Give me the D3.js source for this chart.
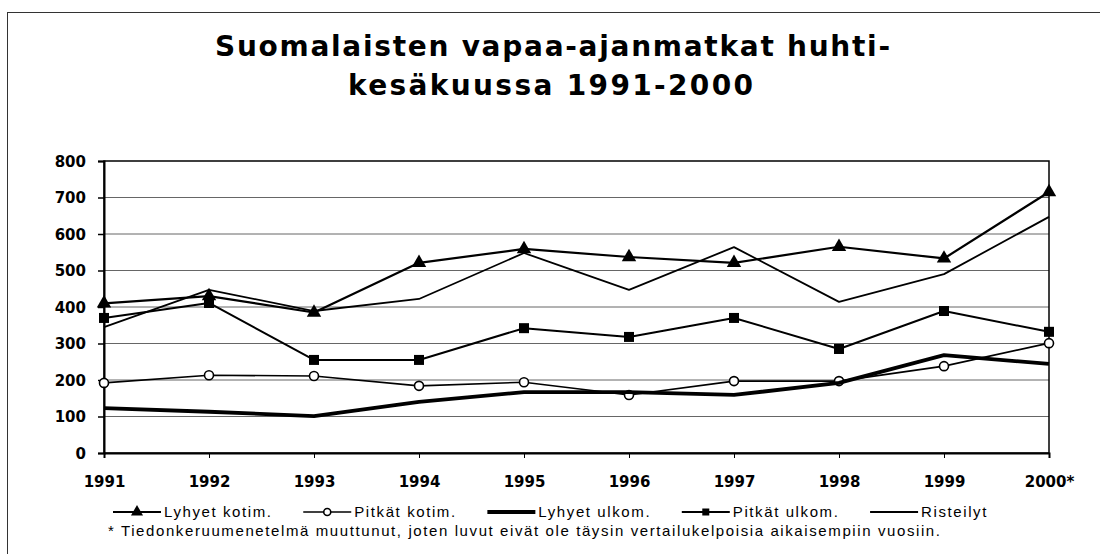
<!DOCTYPE html>
<html>
<head>
<meta charset="utf-8">
<script src="https://cdn.jsdelivr.net/npm/d3@7"></script>
<style>
  body { margin: 0; background: #fff; }
  text { font-family: "Liberation Sans", Arial, sans-serif; fill: #000; }
  .title { font-family: "DejaVu Sans", sans-serif; font-size: 28px; font-weight: bold; }
  .tick text { font-family: "DejaVu Sans", sans-serif; font-size: 15px; font-weight: bold; }
  .legend-label, .footnote { font-size: 15px; letter-spacing: 1.6px; }
</style>
</head>
<body>
<svg id="chart" width="1100" height="554"></svg>
<script>
const years = ["1991", "1992", "1993", "1994", "1995", "1996", "1997", "1998", "1999", "2000*"];
const lyhyetKotim = [410, 430, 385, 521, 559, 537, 521, 565, 533, 715];
const pitkatKotim = [192, 213, 211, 184, 194, 159, 197, 197, 238, 301];
const lyhyetUlkom = [123, 113, 101, 140, 167, 167, 159, 192, 268, 244];
const pitkatUlkom = [370, 411, 255, 255, 342, 318, 370, 285, 389, 332];
const risteilyt = [345, 447, 389, 422, 548, 447, 564, 414, 490, 647];
const yTicks = [0, 100, 200, 300, 400, 500, 600, 700, 800];

const series = [
  { name: "Lyhyet kotim.", values: lyhyetKotim, width: 2.2, marker: "triangle" },
  { name: "Pitkät kotim.", values: pitkatKotim, width: 1.6, marker: "circle" },
  { name: "Lyhyet ulkom.", values: lyhyetUlkom, width: 3.8, marker: null },
  { name: "Pitkät ulkom.", values: pitkatUlkom, width: 2, marker: "square" },
  { name: "Risteilyt", values: risteilyt, width: 1.8, marker: null }
];

const svg = d3.select("#chart");
const margin = { top: 161, right: 51, bottom: 101, left: 104 };
const width = +svg.attr("width");
const height = +svg.attr("height");
const innerWidth = width - margin.left - margin.right;
const innerHeight = height - margin.top - margin.bottom;

// outer chart frame (right and bottom edges fall outside the picture)
svg.append("rect")
  .attr("x", 7.5).attr("y", 12.5)
  .attr("width", 1200).attr("height", 700)
  .attr("fill", "none").attr("stroke", "#333").attr("stroke-width", 1);

svg.append("text").attr("class", "title")
  .attr("x", 215).attr("y", 56)
  .attr("textLength", 675).attr("lengthAdjust", "spacing")
  .text("Suomalaisten vapaa-ajanmatkat huhti-");
svg.append("text").attr("class", "title")
  .attr("x", 348).attr("y", 95)
  .attr("textLength", 405).attr("lengthAdjust", "spacing")
  .text("kesäkuussa 1991-2000");

const g = svg.append("g")
  .attr("transform", `translate(${margin.left},${margin.top})`);

const x = d3.scalePoint()
  .domain(years)
  .range([0, innerWidth]);

const y = d3.scaleLinear()
  .domain([0, 800])
  .range([innerHeight, 0]);

// gridlines
g.selectAll(".grid")
  .data(yTicks.filter(d => d > 0 && d < 800))
  .enter()
  .append("line")
  .attr("class", "grid")
  .attr("x1", 0).attr("x2", innerWidth)
  .attr("y1", d => y(d)).attr("y2", d => y(d))
  .attr("stroke", "#666").attr("stroke-width", 1);

// plot frame
g.append("rect")
  .attr("x", 0).attr("y", 0)
  .attr("width", innerWidth).attr("height", innerHeight)
  .attr("fill", "none").attr("stroke", "#000").attr("stroke-width", 1.5);

const yAxis = g.append("g")
  .call(d3.axisLeft(y).tickValues(yTicks).tickSize(6).tickPadding(12));
yAxis.select(".domain").attr("stroke-width", 2);
yAxis.selectAll(".tick line").attr("stroke-width", 1.5);
yAxis.selectAll(".tick text").attr("dy", "0.36em");

const xAxis = g.append("g")
  .attr("transform", `translate(0,${innerHeight})`)
  .call(d3.axisBottom(x).tickSize(5).tickPadding(20));
xAxis.select(".domain").attr("stroke-width", 2);
xAxis.selectAll(".tick line").attr("stroke-width", 1);
xAxis.selectAll(".tick text").attr("dy", "0").attr("y", 34);

const line = d3.line()
  .x((d, i) => x(years[i]))
  .y(d => y(d));

function drawMarker(sel, type, size) {
  if (type === "triangle") {
    sel.append("path")
      .attr("d", d3.symbol(d3.symbolTriangle, size * 9)())
      .attr("fill", "#000");
  } else if (type === "square") {
    sel.append("rect")
      .attr("x", -size / 2).attr("y", -size / 2)
      .attr("width", size).attr("height", size)
      .attr("fill", "#000");
  } else if (type === "circle") {
    sel.append("circle")
      .attr("r", size / 2)
      .attr("fill", "#fff").attr("stroke", "#000").attr("stroke-width", 1.6);
  }
}

series.forEach(s => {
  g.append("path")
    .datum(s.values)
    .attr("fill", "none")
    .attr("stroke", "#000")
    .attr("stroke-width", s.width)
    .attr("stroke-linejoin", "round")
    .attr("d", line);
  if (s.marker) {
    g.selectAll(null)
      .data(s.values)
      .enter()
      .append("g")
      .attr("transform", (d, i) => `translate(${x(years[i])},${y(d)})`)
      .each(function () { drawMarker(d3.select(this), s.marker, s.marker === "circle" ? 9 : 10); });
  }
});

// legend
const legend = svg.append("g");
const legendY = 512;
const symW = 48;
const items = series.map(s => {
  const item = legend.append("g");
  item.append("line")
    .attr("x1", 0).attr("x2", symW)
    .attr("y1", 0).attr("y2", 0)
    .attr("stroke", "#000").attr("stroke-width", s.width);
  if (s.marker) {
    drawMarker(item.append("g").attr("transform", `translate(${symW / 2},0)`), s.marker, 7);
  }
  const t = item.append("text").attr("class", "legend-label")
    .attr("x", symW + 3).attr("y", 5)
    .text(s.name);
  return { item, w: symW + 3 + t.node().getComputedTextLength() };
});
const legendStart = 113, legendEnd = 988;
const totalW = d3.sum(items, d => d.w);
const gap = (legendEnd - legendStart - totalW) / (items.length - 1);
let cx = legendStart;
items.forEach(d => {
  d.item.attr("transform", `translate(${cx},${legendY})`);
  cx += d.w + gap;
});

svg.append("text").attr("class", "footnote")
  .attr("x", 108).attr("y", 536)
  .text("* Tiedonkeruumenetelmä muuttunut, joten luvut eivät ole täysin vertailukelpoisia aikaisempiin vuosiin.");
</script>
</body>
</html>
